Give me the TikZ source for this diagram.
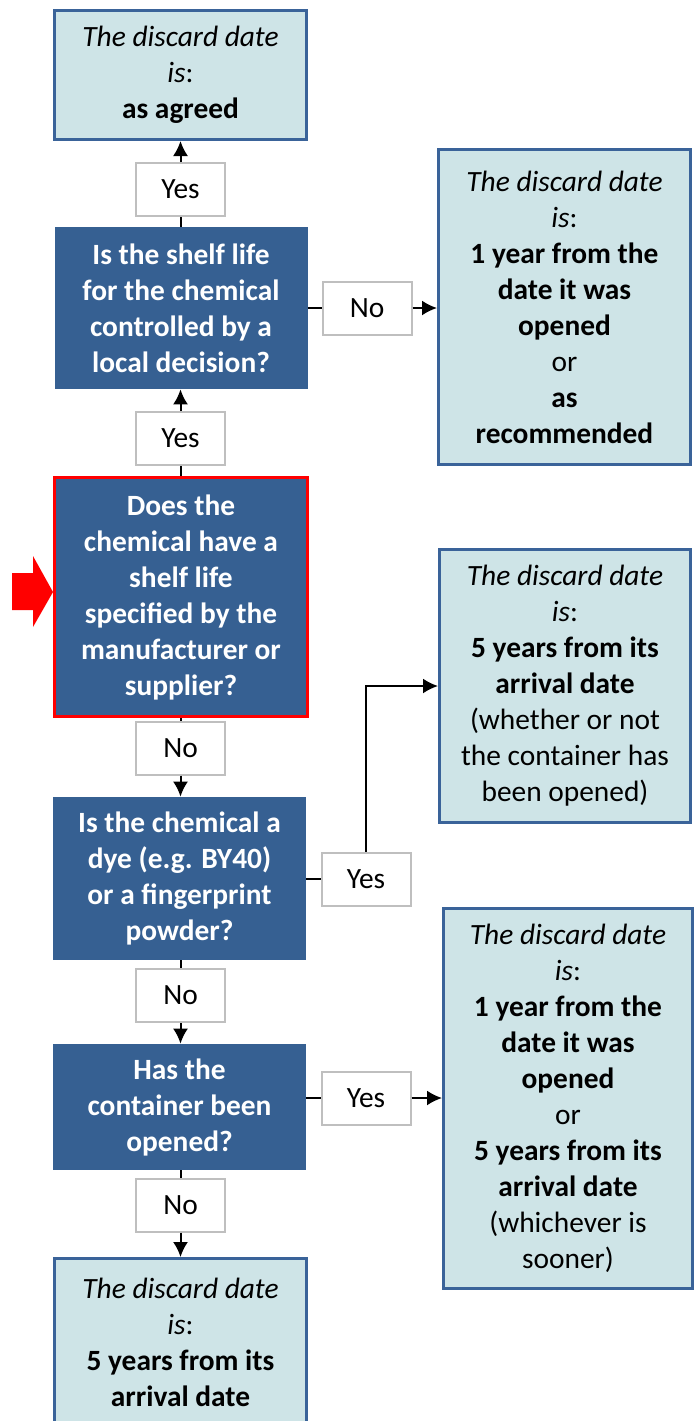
\documentclass[tikz,border=0pt]{standalone}
\usepackage{fontspec}
\setmainfont{Carlito}
\usetikzlibrary{arrows.meta}
\definecolor{qblue}{RGB}{54,96,146}
\definecolor{bordblue}{RGB}{58,99,153}
\definecolor{lightfill}{RGB}{206,228,231}
\definecolor{labgray}{RGB}{191,191,191}
\newcommand\fs{\fontsize{14.7}{18}\selectfont}
\tikzset{
 res/.style={draw=bordblue, line width=1.5pt, fill=lightfill, align=center, inner sep=0pt, font=\fs},
 qbox/.style={fill=qblue, text=white, font=\fs\bfseries, align=center, inner sep=0pt, minimum width=126.5pt},
 lab/.style={draw=labgray, line width=1pt, fill=white, font=\fs, inner sep=0pt, minimum width=44.5pt, minimum height=26.5pt},
 conn/.style={line width=1pt, draw=black},
 arr/.style={conn, -{Latex[length=7.5pt,width=7.5pt]}}
}
\begin{document}
\begin{tikzpicture}[x=0.5pt,y=-0.5pt]
\useasboundingbox (0,0) rectangle (700,1421);
% left column
\node[res, minimum width=126pt, minimum height=64.5pt] (r0) at (180.5,75)
 {\textit{The discard date}\\\textit{is}:\\\textbf{as agreed}};
\node[lab] (l1) at (180.5,189.5) {Yes};
\node[qbox, minimum height=81pt] (q1) at (181,308)
 {Is the shelf life\\for the chemical\\controlled by a\\local decision?};
\node[lab] (l2) at (180.5,438.5) {Yes};
\node[qbox, draw=red, line width=1.5pt, minimum height=119.5pt] (q2) at (181,597)
 {Does the\\chemical have a\\shelf life\\specified by the\\manufacturer or\\supplier?};
\node[lab] (l3) at (180.5,748) {No};
\node[qbox, minimum height=81.5pt] (q3) at (179.5,878.5)
 {Is the chemical a\\dye (e.g. BY40)\\or a fingerprint\\powder?};
\node[lab] (l4) at (180.5,995.5) {No};
\node[qbox, minimum height=63pt] (q4) at (179.5,1107)
 {Has the\\container been\\opened?};
\node[lab] (l5) at (180.5,1205) {No};
\node[res, minimum width=126pt, minimum height=83.5pt] (rb) at (180.5,1342)
 {\textit{The discard date}\\\textit{is}:\\\textbf{5 years from its}\\\textbf{arrival date}};
% right column
\node[lab] (n1) at (367,308) {No};
\node[res, minimum width=126pt, minimum height=157.5pt] (r1) at (564.5,307)
 {\textit{The discard date}\\\textit{is}:\\\textbf{1 year from the}\\\textbf{date it was}\\\textbf{opened}\\or\\\textbf{as}\\\textbf{recommended}};
\node[res, minimum width=125.5pt, minimum height=136.5pt] (r2) at (565,686)
 {\textit{The discard date}\\\textit{is}:\\\textbf{5 years from its}\\\textbf{arrival date}\\(whether or not\\the container has\\been opened)};
\node[lab] (y3) at (366,879) {Yes};
\node[res, minimum width=124.5pt, minimum height=190pt] (r3) at (568,1098.5)
 {\textit{The discard date}\\\textit{is}:\\\textbf{1 year from the}\\\textbf{date it was}\\\textbf{opened}\\or\\\textbf{5 years from its}\\\textbf{arrival date}\\(whichever is\\sooner)};
\node[lab] (y4) at (366,1098) {Yes};
% connectors
\draw[conn] (q1.north -| l1) -- (l1.south);
\draw[arr] (l1.north) -- (l1.north |- r0.south);
\draw[conn] (q2.north -| l2) -- (l2.south);
\draw[arr] (l2.north) -- (l2.north |- q1.south);
\draw[conn] (q1.east |- n1) -- (n1.west);
\draw[arr] (n1.east) -- (n1.east -| r1.west);
\draw[conn] (q2.south -| l3) -- (l3.north);
\draw[arr] (l3.south) -- (l3.south |- q3.north);
\draw[conn] (q3.east |- y3) -- (y3.west);
\draw[arr] (y3.north) |- (r2.west);
\draw[conn] (q3.south -| l4) -- (l4.north);
\draw[arr] (l4.south) -- (l4.south |- q4.north);
\draw[conn] (q4.east |- y4) -- (y4.west);
\draw[arr] (y4.east) -- (y4.east -| r3.west);
\draw[conn] (q4.south -| l5) -- (l5.north);
\draw[arr] (l5.south) -- (l5.south |- rb.north);
% red pointer
\fill[red] (12,573) -- (33,573) -- (33,556) -- (53,592) -- (33,627) -- (33,610) -- (12,610) -- cycle;
\end{tikzpicture}
\end{document}
